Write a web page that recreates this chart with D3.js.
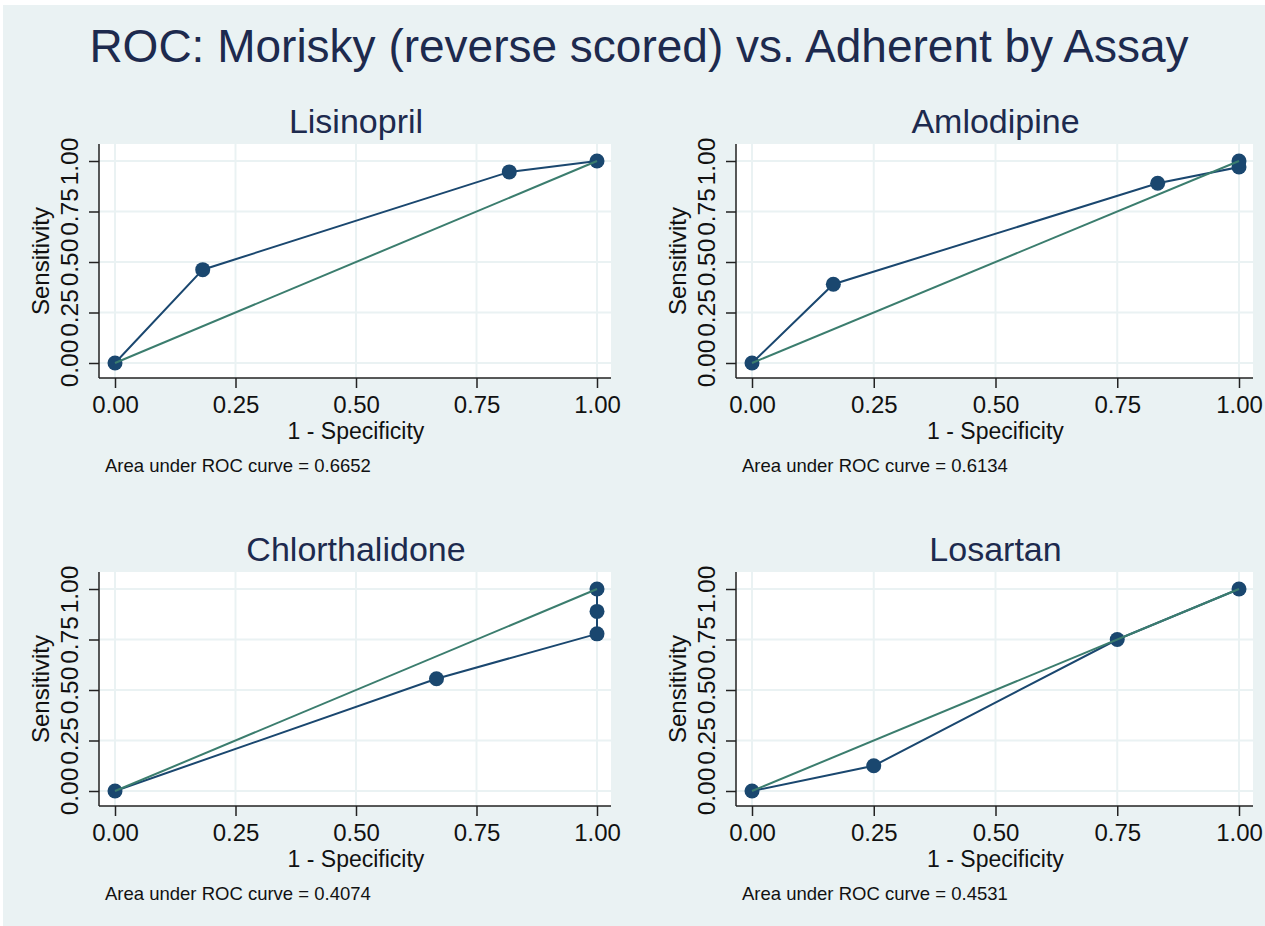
<!DOCTYPE html>
<html>
<head>
<meta charset="utf-8">
<script src="https://cdn.jsdelivr.net/npm/d3@7"></script>
<style>
  body { margin: 0; background: #fff; }
  text { font-family: "Liberation Sans", Arial, Helvetica, sans-serif; }
</style>
</head>
<body>
<script>
var w = 1265;
var h = 926;

// data
var drugs = ["Lisinopril", "Amlodipine", "Chlorthalidone", "Losartan"];
var fprLisinopril = [0, 0.182, 0.818, 1];
var tprLisinopril = [0, 0.462, 0.946, 1];
var fprAmlodipine = [0, 0.167, 0.833, 1, 1];
var tprAmlodipine = [0, 0.39, 0.89, 0.97, 1];
var fprChlorthalidone = [0, 0.667, 1, 1, 1];
var tprChlorthalidone = [0, 0.556, 0.778, 0.889, 1];
var fprLosartan = [0, 0.25, 0.75, 1];
var tprLosartan = [0, 0.125, 0.75, 1];
var aucLabels = ["0.6652", "0.6134", "0.4074", "0.4531"];
var tickValues = [0, 0.25, 0.5, 0.75, 1];

var fprs = [fprLisinopril, fprAmlodipine, fprChlorthalidone, fprLosartan];
var tprs = [tprLisinopril, tprAmlodipine, tprChlorthalidone, tprLosartan];

var navy = "#1a476f";
var green = "#3b7d6e";
var bg = "#eaf2f3";

var svg = d3.select("body").append("svg").attr("width", w).attr("height", h);

// white strip at top/left like the export, then the light background
svg.append("rect").attr("width", w).attr("height", h).attr("fill", "#fff");
svg.append("rect").attr("x", 3).attr("y", 5).attr("width", w - 3).attr("height", h - 5).attr("fill", bg);

svg.append("text")
  .attr("x", 639).attr("y", 62)
  .attr("text-anchor", "middle")
  .attr("font-size", 46)
  .attr("fill", "#1d2a4e")
  .text("ROC: Morisky (reverse scored) vs. Adherent by Assay");

// panel boxes: left edge of plot (axis), right edge, top, bottom (axis)
var colLeft = [99, 736];
var colRight = [611, 1253];
var rowTop = [144, 572];

drugs.forEach(function (name, i) {
  var col = i % 2, row = Math.floor(i / 2);
  var left = colLeft[col], right = colRight[col];
  var top = rowTop[row], bottom = top + 234;

  var x = d3.scaleLinear().domain([0, 1]).range([left + 16, right - 14]);
  var y = d3.scaleLinear().domain([0, 1]).range([bottom - 15, top + 17]);

  var g = svg.append("g");

  // plot region
  g.append("rect")
    .attr("x", left).attr("y", top)
    .attr("width", right - left).attr("height", bottom - top)
    .attr("fill", "#fff");

  // grid
  g.selectAll(".gx").data(tickValues).enter().append("line")
    .attr("x1", d => x(d)).attr("x2", d => x(d))
    .attr("y1", top).attr("y2", bottom)
    .attr("stroke", bg).attr("stroke-width", 2);
  g.selectAll(".gy").data(tickValues).enter().append("line")
    .attr("x1", left).attr("x2", right)
    .attr("y1", d => y(d)).attr("y2", d => y(d))
    .attr("stroke", bg).attr("stroke-width", 2);

  // axes
  var xAxis = g.append("g")
    .attr("transform", "translate(0," + bottom + ")")
    .call(d3.axisBottom(x).tickValues(tickValues).tickFormat(d3.format(".2f")).tickSize(10));
  xAxis.select(".domain").attr("d", "M" + left + ",0H" + right);
  xAxis.selectAll(".tick text")
    .attr("y", 35).attr("dy", null)
    .attr("font-size", 24).attr("fill", "#111").attr("font-family", null);

  var yAxis = g.append("g")
    .attr("transform", "translate(" + left + ",0)")
    .call(d3.axisLeft(y).tickValues(tickValues).tickFormat(d3.format(".2f")).tickSize(10));
  yAxis.select(".domain").attr("d", "M0," + top + "V" + bottom);
  yAxis.selectAll(".tick text")
    .attr("x", null).attr("dy", null)
    .attr("text-anchor", "middle")
    .attr("transform", "translate(-21,0) rotate(-90)")
    .attr("font-size", 24.5).attr("fill", "#111").attr("font-family", null);
  g.selectAll(".domain, .tick line").attr("stroke", "#222").attr("stroke-width", 1.5);

  // titles
  g.append("text")
    .attr("x", (x(0) + x(1)) / 2).attr("y", top - 11)
    .attr("text-anchor", "middle").attr("font-size", 34).attr("fill", "#1d2a4e")
    .text(name);
  g.append("text")
    .attr("x", (x(0) + x(1)) / 2).attr("y", bottom + 61)
    .attr("text-anchor", "middle").attr("font-size", 23).attr("fill", "#111")
    .text("1 - Specificity");
  g.append("text")
    .attr("transform", "translate(" + (left - 50) + "," + ((top + bottom) / 2) + ") rotate(-90)")
    .attr("text-anchor", "middle").attr("font-size", 24).attr("fill", "#111")
    .text("Sensitivity");
  g.append("text")
    .attr("x", left + 6).attr("y", bottom + 94)
    .attr("font-size", 18.5).attr("fill", "#111")
    .text("Area under ROC curve = " + aucLabels[i]);

  // ROC curve
  var pts = fprs[i].map(function (f, k) { return [f, tprs[i][k]]; });
  var line = d3.line().x(d => x(d[0])).y(d => y(d[1]));
  g.append("path").datum(pts)
    .attr("d", line).attr("fill", "none")
    .attr("stroke", navy).attr("stroke-width", 2);
  g.selectAll(".pt").data(pts).enter().append("circle")
    .attr("cx", d => x(d[0])).attr("cy", d => y(d[1]))
    .attr("r", 7.5).attr("fill", navy);

  // reference line
  g.append("path").datum([[0, 0], [1, 1]])
    .attr("d", line).attr("fill", "none")
    .attr("stroke", green).attr("stroke-width", 2);
});
</script>
</body>
</html>
